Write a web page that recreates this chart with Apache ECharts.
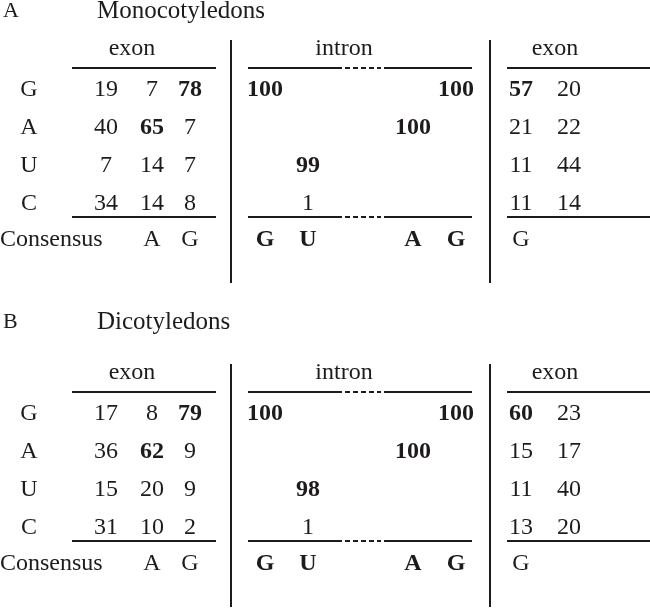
<!DOCTYPE html>
<html><head><meta charset="utf-8">
<script src="https://cdn.jsdelivr.net/npm/echarts@6/dist/echarts.min.js"></script>
<style>html,body{margin:0;padding:0;background:#fff}#c{width:650px;height:608px}</style>
</head><body><div id="c"></div>
<script>
// ---------- data ----------
const panelLetters = ['A', 'B'];
const panelTitles = ['Monocotyledons', 'Dicotyledons'];
const bases = ['G', 'A', 'U', 'C'];
const regionHeaders = ['exon', 'intron', 'exon'];
const consensusLabel = 'Consensus';
// 5' exon (3 positions) per base
const monoExon5 = [[19, 7, 78], [40, 65, 7], [7, 14, 7], [34, 14, 8]];
const dicoExon5 = [[17, 8, 79], [36, 62, 9], [15, 20, 9], [31, 10, 2]];
// intron (GU ... AG) per base, null = blank
const monoIntron = [[100, null, null, 100], [null, null, 100, null], [null, 99, null, null], [null, 1, null, null]];
const dicoIntron = [[100, null, null, 100], [null, null, 100, null], [null, 98, null, null], [null, 1, null, null]];
// 3' exon (2 positions) per base
const monoExon3 = [[57, 20], [21, 22], [11, 44], [11, 14]];
const dicoExon3 = [[60, 23], [15, 17], [11, 40], [13, 20]];
// consensus letters
const consExon5 = ['', 'A', 'G'];
const consIntron = ['G', 'U', 'A', 'G'];
const consExon3 = ['G'];

const panels = [
  { exon5: monoExon5, intron: monoIntron, exon3: monoExon3 },
  { exon5: dicoExon5, intron: dicoIntron, exon3: dicoExon3 }
];

// ---------- layout (positions/styles only) ----------
const INK = '#1e1b1c';
const FONT = 'Liberation Serif';
const FS = 24;
const colBase = 29;
const colExon5 = [106, 152, 190];
const colIntron = [265, 308, 413, 456];
const colExon3 = [521, 569];
const headerX = [132, 344, 555];
const titleLetterX = 3, titleX = 97;
const rowHeader = -1.066, rowConsensus = 3.96;
const titleRow = [-2.066, -2.408];
const ruleTop = -0.566, ruleBottom = 3.355;
const vTop = -1.303, vBottom = 5.092;
const vLinesX = [231, 490];
const segs = [ // [x1, x2, dashed]
  [72, 216, false], [248, 337, false], [337, 381, true], [384, 472, false], [507, 650, false]
];
const panelOffset = [0, 8.526];
const rowPx = 38, row0Px = 89.5;
const yMin = -row0Px / rowPx, yMax = yMin + 608 / rowPx;

const items = [];
const lineData = [];
const add = (x, y, text, opts) => {
  if (text === null || text === '' || text === undefined) return;
  opts = opts || {};
  items.push({
    value: [x, y],
    label: {
      formatter: String(text),
      fontWeight: opts.bold ? 'bold' : 'normal',
      align: opts.align || 'center',
      fontSize: opts.size || FS
    }
  });
};
const isBold = v => v !== null && v >= 50;

panels.forEach((p, pi) => {
  const o = panelOffset[pi];
  add(titleLetterX, titleRow[pi] + o, panelLetters[pi], { align: 'left', size: 22 });
  add(titleX, titleRow[pi] + o, panelTitles[pi], { align: 'left', size: 25 });
  regionHeaders.forEach((h, i) => add(headerX[i], rowHeader + o, h));
  bases.forEach((b, r) => {
    add(colBase, r + o, b);
    p.exon5[r].forEach((v, c) => add(colExon5[c], r + o, v, { bold: isBold(v) }));
    p.intron[r].forEach((v, c) => add(colIntron[c], r + o, v, { bold: isBold(v) }));
    p.exon3[r].forEach((v, c) => add(colExon3[c], r + o, v, { bold: isBold(v) }));
  });
  add(0, rowConsensus + o, consensusLabel, { align: 'left' });
  consExon5.forEach((t, c) => add(colExon5[c], rowConsensus + o, t));
  consIntron.forEach((t, c) => add(colIntron[c], rowConsensus + o, t, { bold: true }));
  consExon3.forEach((t, c) => add(colExon3[c], rowConsensus + o, t));

  [ruleTop, ruleBottom].forEach(y => segs.forEach(s => lineData.push({
    coords: [[s[0], y + o], [s[1], y + o]],
    lineStyle: { type: s[2] ? [5, 3] : 'solid' }
  })));
  vLinesX.forEach(x => lineData.push({ coords: [[x, vTop + o], [x, vBottom + o]], lineStyle: { type: 'solid' } }));
});

const chart = echarts.init(document.getElementById('c'), null, { renderer: 'canvas' });
chart.setOption({
  animation: false, backgroundColor: '#fff',
  grid: { left: 0, top: 0, width: 650, height: 608 },
  xAxis: { type: 'value', min: 0, max: 650, show: false },
  yAxis: { type: 'value', min: yMin, max: yMax, inverse: true, show: false },
  series: [
    {
      type: 'scatter', symbolSize: 0, silent: true, animation: false,
      itemStyle: { opacity: 1 },
      label: { show: true, position: 'inside', color: INK, fontFamily: FONT, verticalAlign: 'middle', opacity: 1 },
      data: items
    },
    {
      type: 'lines', coordinateSystem: 'cartesian2d', silent: true, clip: false, animation: false,
      lineStyle: { color: INK, width: 2, opacity: 1, curveness: 0 },
      data: lineData
    }
  ]
});
</script></body></html>
